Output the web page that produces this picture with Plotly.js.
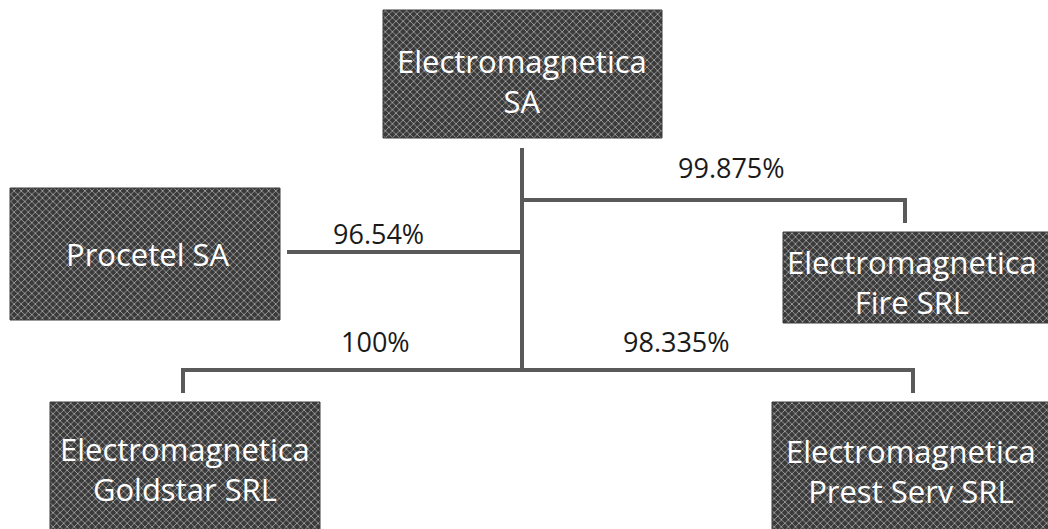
<!DOCTYPE html>
<html>
<head>
<meta charset="utf-8">
<script src="https://cdn.plot.ly/plotly-3.0.1.min.js"></script>
<style>html,body{margin:0;padding:0;background:#fff;}#chart{width:1048px;height:529px;}</style>
</head>
<body>
<div id="chart"></div>
<script>
// ---- data ----
const companies = ["Electromagnetica<br>SA", "Procetel SA", "Electromagnetica<br>Fire SRL", "Electromagnetica<br>Goldstar SRL", "Electromagnetica<br>Prest Serv SRL"];
const parentCompany = "Electromagnetica<br>SA";
const subsidiaries = ["Procetel SA", "Electromagnetica<br>Fire SRL", "Electromagnetica<br>Goldstar SRL", "Electromagnetica<br>Prest Serv SRL"];
const stakes = ["96.54%", "99.875%", "100%", "98.335%"];

// ---- layout (positions in pixel-like data units, y downward) ----
const boxes = {
  "Electromagnetica<br>SA": {x0: 383, x1: 662, y0: 10, y1: 138, tx: 522, ty: 81},
  "Procetel SA": {x0: 10, x1: 280, y0: 188, y1: 320, tx: 148, ty: 254},
  "Electromagnetica<br>Fire SRL": {x0: 783, x1: 1060, y0: 232, y1: 323, tx: 912, ty: 282},
  "Electromagnetica<br>Goldstar SRL": {x0: 50, x1: 320, y0: 402, y1: 545, tx: 185, ty: 469},
  "Electromagnetica<br>Prest Serv SRL": {x0: 772, x1: 1060, y0: 402, y1: 545, tx: 911, ty: 471}
};
const trunkX = 522;
const connectors = {
  "Procetel SA": {path: [[287, 252], [trunkX, 252]], label: [378, 233]},
  "Electromagnetica<br>Fire SRL": {path: [[trunkX, 200], [905, 200], [905, 223]], label: [731, 167]},
  "Electromagnetica<br>Goldstar SRL": {path: [[trunkX, 370], [183, 370], [183, 393]], label: [375, 341]},
  "Electromagnetica<br>Prest Serv SRL": {path: [[trunkX, 370], [913, 370], [913, 393]], label: [676, 341]}
};

const traces = [];
// boxes
companies.forEach(c => {
  const b = boxes[c];
  traces.push({
    type: 'scatter', mode: 'lines',
    x: [b.x0, b.x1, b.x1, b.x0, b.x0],
    y: [b.y0, b.y0, b.y1, b.y1, b.y0],
    fill: 'toself',
    fillcolor: '#4d4d4d',
    fillpattern: {shape: 'x', bgcolor: '#3a3a3a', fgcolor: '#b0b0b0', size: 5, solidity: 0.28},
    line: {width: 1, color: '#3a3a3a'},
    hoverinfo: 'skip', showlegend: false
  });
});
// trunk
traces.push({
  type: 'scatter', mode: 'lines', x: [trunkX, trunkX], y: [148, 370],
  line: {color: '#5a5a5a', width: 4}, hoverinfo: 'skip', showlegend: false
});
subsidiaries.forEach(s => {
  const p = connectors[s].path;
  traces.push({
    type: 'scatter', mode: 'lines', x: p.map(q => q[0]), y: p.map(q => q[1]),
    line: {color: '#5a5a5a', width: 4}, hoverinfo: 'skip', showlegend: false
  });
});

const annotations = [];
companies.forEach(c => {
  const b = boxes[c];
  annotations.push({
    x: b.tx, y: b.ty, xref: 'x', yref: 'y', text: c, showarrow: false,
    font: {family: 'Open Sans', size: 31, color: '#ffffff'}, align: 'center'
  });
});
subsidiaries.forEach((s, i) => {
  const l = connectors[s].label;
  annotations.push({
    x: l[0], y: l[1], xref: 'x', yref: 'y', text: stakes[i], showarrow: false,
    font: {family: 'Open Sans', size: 27, color: '#1a1a1a'}
  });
});

const layout = {
  width: 1048, height: 529,
  margin: {l: 0, r: 0, t: 0, b: 0},
  paper_bgcolor: '#ffffff', plot_bgcolor: '#ffffff',
  xaxis: {range: [0, 1048], visible: false, fixedrange: true},
  yaxis: {range: [529, 0], visible: false, fixedrange: true},
  annotations: annotations,
  showlegend: false
};
Plotly.newPlot('chart', traces, layout, {displayModeBar: false, staticPlot: true});
</script>
</body>
</html>
